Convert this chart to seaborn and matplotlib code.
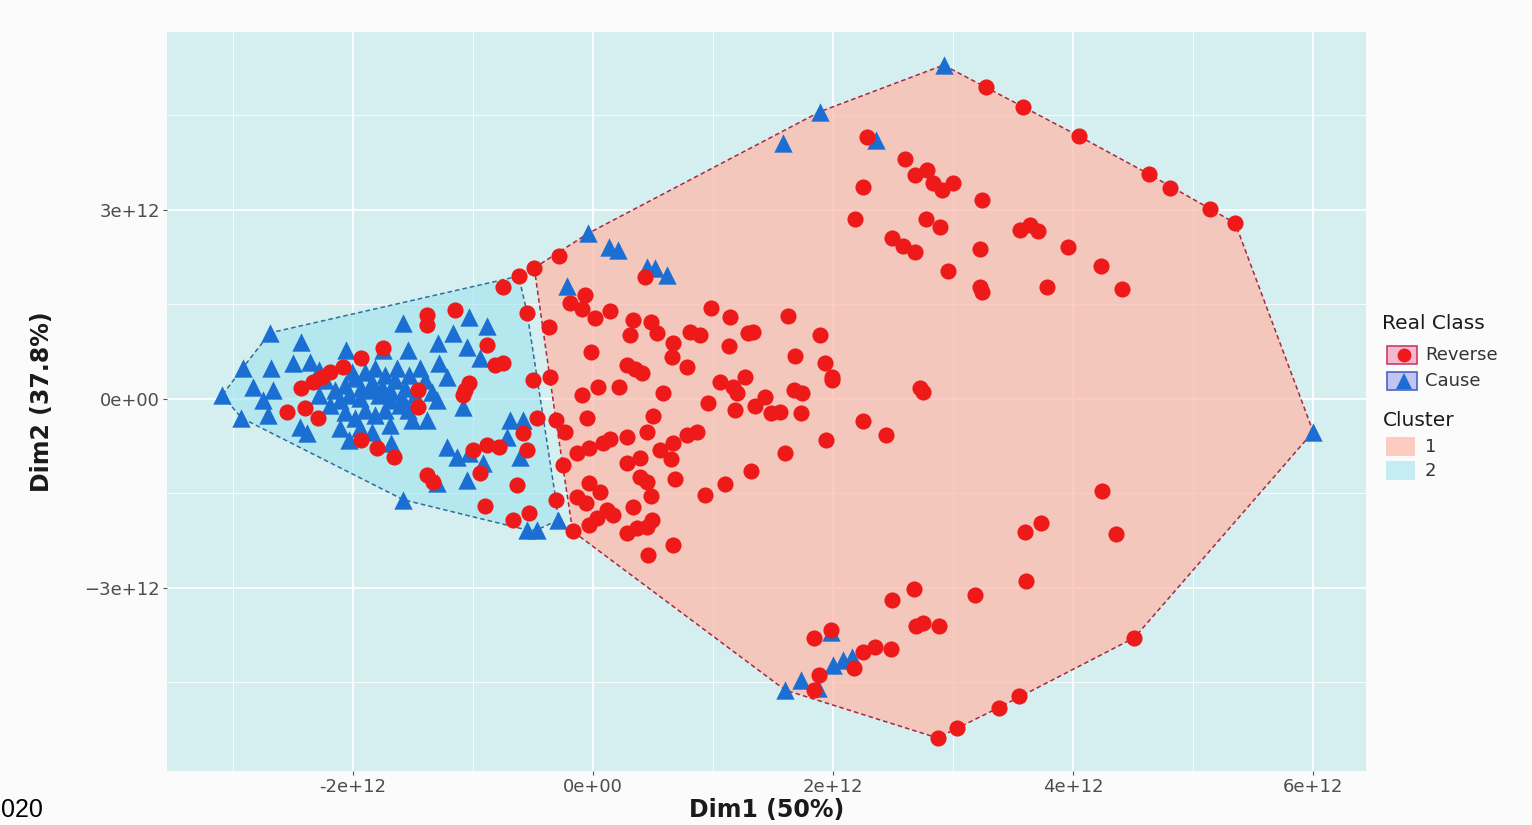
import numpy as np
import pandas as pd
import matplotlib
matplotlib.use("Agg")
import matplotlib.pyplot as plt
import seaborn as sns
from matplotlib.patches import Rectangle, Polygon
from matplotlib.lines import Line2D

UNIT = 1e12

# ---- cluster 1 : "Reverse" observations (units of 1e12) ----
c1_reverse_x = [3.27, 3.58, 4.05, 4.63, 4.81, 5.14, 5.35, 2.28, 2.60, 2.68, 2.78, 2.83, 2.91, 3.00, 2.25, 3.24,
                2.18, 2.77, 2.89, 3.56, 3.64, 3.71, 2.49, 2.58, 2.68, 3.22, 3.96, 2.96, 4.23, 3.22, 3.24, 3.78, 4.41,
                -0.49, -0.28, 0.43, 0.98, 1.14, 1.29,
                -0.07, -0.19, -0.09, 0.02, 0.14, -0.37, 0.33, 0.48, 0.31, 0.53, 0.81, 0.89, 1.62, 1.33, 1.89,
                -0.02, 0.67, 0.66, 1.13, 1.68, 0.28, 0.35, 0.41, 0.78, 1.93, 1.99, -0.36, -0.09, 0.04, 0.22, 0.58,
                1.06, 1.17, 1.27, 1.20, 0.96, 1.18, 1.35, 1.43, 1.48, 1.56, 1.67, 1.74, 1.73,
                -0.05, 0.50, -0.31, -0.23, 0.45, 0.28, -0.13, -0.03, 0.08, 0.14, 0.56, 0.67, 0.78, 0.87, 0.65, 0.28,
                0.39, 1.94, 1.60, -0.25, 0.39, 0.45, 0.68, 1.32, 1.10, -0.03, 0.06, -0.13, -0.06, 0.48, 0.93, 0.33,
                0.12, 0.17, 0.03, -0.03, 0.28, 0.37, 0.45, 0.49, 0.67, 0.46, -0.17,
                1.99, 2.72, 2.75, 2.25, 2.44, 4.24, 3.60, 3.73, 4.36, 3.61, 3.18, 2.67, 2.49, 2.69, 2.75, 2.88,
                4.51, 3.55, 3.38, 3.03, 2.87, 1.84, 1.98, 2.25, 2.35, 2.48, 1.88, 1.84, 2.17]
c1_reverse_y = [4.95, 4.63, 4.17, 3.57, 3.35, 3.02, 2.79, 4.16, 3.81, 3.56, 3.63, 3.43, 3.32, 3.43, 3.37, 3.16,
                2.86, 2.86, 2.73, 2.68, 2.76, 2.67, 2.56, 2.43, 2.33, 2.38, 2.41, 2.03, 2.11, 1.78, 1.70, 1.78, 1.75,
                2.08, 2.27, 1.94, 1.44, 1.30, 1.05,
                1.65, 1.52, 1.43, 1.29, 1.40, 1.14, 1.25, 1.22, 1.02, 1.05, 1.06, 1.02, 1.32, 1.06, 1.02,
                0.75, 0.89, 0.67, 0.84, 0.68, 0.54, 0.48, 0.41, 0.51, 0.57, 0.35, 0.35, 0.06, 0.19, 0.19, 0.10,
                0.27, 0.19, 0.35, 0.10, -0.06, -0.17, -0.11, 0.03, -0.22, -0.21, 0.14, 0.10, -0.22,
                -0.30, -0.27, -0.33, -0.52, -0.52, -0.60, -0.86, -0.78, -0.70, -0.63, -0.81, -0.70, -0.57, -0.52, -0.95, -1.02,
                -0.94, -0.65, -0.86, -1.05, -1.24, -1.32, -1.27, -1.14, -1.35, -1.33, -1.48, -1.56, -1.65, -1.54, -1.52, -1.71,
                -1.76, -1.84, -1.89, -2.00, -2.13, -2.05, -2.03, -1.92, -2.32, -2.48, -2.10,
                0.30, 0.17, 0.11, -0.35, -0.57, -1.46, -2.11, -1.97, -2.14, -2.89, -3.11, -3.02, -3.19, -3.60, -3.56, -3.60,
                -3.79, -4.71, -4.90, -5.22, -5.38, -3.79, -3.67, -4.02, -3.94, -3.97, -4.38, -4.62, -4.27]

# ---- cluster 1 : "Cause" observations ----
c1_cause_x = [-0.04, 0.13, 0.21, -0.22, 0.45, 0.52, 0.62, 1.58, 1.89, 2.36, 2.92, 6.00,
              1.60, 1.73, 1.87, 2.00, 2.08, 2.16, 1.98]
c1_cause_y = [2.63, 2.41, 2.37, 1.79, 2.10, 2.08, 1.97, 4.06, 4.56, 4.11, 5.30, -0.52,
              -4.62, -4.46, -4.59, -4.22, -4.14, -4.10, -3.70]

# ---- cluster 2 : "Reverse" observations ----
c2_reverse_x = [-0.62, -0.75, -0.55, -0.50, -0.47, -0.31,
                -1.38, -1.15, -1.38, -1.75, -1.93, -2.08, -2.19, -2.26, -2.33, -2.43,
                -0.88, -0.82, -0.75, -1.03, -1.07, -1.08, -1.46, -1.46,
                -2.55, -2.40, -2.29, -1.93, -1.80, -1.66,
                -1.00, -0.88, -0.78, -0.58, -0.55, -0.94, -1.38, -1.33, -0.63, -0.90, -0.67, -0.53]
c2_reverse_y = [1.95, 1.78, 1.37, 0.30, -0.30, -1.60,
                1.33, 1.41, 1.17, 0.81, 0.65, 0.51, 0.43, 0.35, 0.27, 0.17,
                0.86, 0.54, 0.57, 0.25, 0.14, 0.06, 0.14, -0.13,
                -0.21, -0.14, -0.30, -0.65, -0.78, -0.92,
                -0.81, -0.73, -0.76, -0.54, -0.81, -1.17, -1.21, -1.32, -1.37, -1.70, -1.92, -1.81]

# ---- cluster 2 : "Cause" observations ----
c2_cause_x = [-2.69, -2.43, -2.06, -1.58, -1.03, -0.88, -2.92, -3.09, -2.93, -2.68, -2.50, -2.36, -2.28,
              -2.83, -2.75, -2.71, -2.44, -2.38, -2.67, -1.75, -1.54, -1.29, -1.17, -1.28, -1.05, -0.94,
              -1.22, -1.08, -1.30, -1.54, -1.69, -2.03, -1.68, -1.22, -1.13, -1.03, -0.92, -1.05, -0.72,
              -0.69, -0.58, -0.61, -1.30, -1.58, -0.55, -0.47, -0.29]
c2_cause_y = [1.05, 0.90, 0.78, 1.21, 1.30, 1.16, 0.49, 0.06, -0.30, 0.49, 0.57, 0.59, 0.46,
              0.19, -0.02, -0.25, -0.44, -0.54, 0.14, 0.78, 0.78, 0.89, 1.05, 0.57, 0.83, 0.65,
              0.35, -0.13, -0.02, -0.17, -0.41, -0.65, -0.70, -0.76, -0.92, -0.86, -1.02, -1.29, -0.60,
              -0.33, -0.33, -0.92, -1.33, -1.60, -2.08, -2.08, -1.92]
c2_cause_core_x = [-2.23, -2.15, -2.07, -1.98, -1.90, -1.82, -1.73, -1.65, -1.57, -1.48,
                   -2.11, -2.03, -1.94, -1.86, -1.78, -1.69, -1.61, -1.90, -1.82, -1.73,
                   -1.98, -2.07, -2.19, -2.28, -1.53, -1.44, -1.40, -1.63, -2.01, -1.84,
                   -1.93, -1.76, -1.68, -1.59, -1.51, -1.94, -1.84, -2.11, -1.34, -1.38]
c2_cause_core_y = [0.30, 0.14, 0.22, 0.33, 0.43, 0.49, 0.38, 0.30, 0.17, 0.06,
                   -0.02, 0.06, 0.02, 0.14, 0.06, -0.02, -0.10, -0.17, -0.25, -0.17,
                   -0.30, -0.21, -0.10, 0.06, 0.38, 0.49, 0.30, 0.49, 0.43, 0.27,
                   0.17, 0.19, 0.11, 0.02, -0.33, -0.46, -0.52, -0.46, 0.11, -0.33]

x_ticks = [-2, 0, 2, 4, 6]
x_tick_labels = ["-2e+12", "0e+00", "2e+12", "4e+12", "6e+12"]
y_ticks = [-3, 0, 3]
y_tick_labels = ["\u22123e+12", "0e+00", "3e+12"]
x_title = "Dim1 (50%)"
y_title = "Dim2 (37.8%)"
class_names = ["Reverse", "Cause"]
cluster_names = ["1", "2"]
corner_note = "020"

# ---- assemble tidy frame ----
frames = []
for xs, ys, cls, clu in [
    (c1_reverse_x, c1_reverse_y, "Reverse", "1"),
    (c1_cause_x, c1_cause_y, "Cause", "1"),
    (c2_reverse_x, c2_reverse_y, "Reverse", "2"),
    (c2_cause_x + c2_cause_core_x, c2_cause_y + c2_cause_core_y, "Cause", "2"),
]:
    frames.append(pd.DataFrame({"Dim1": np.array(xs) * UNIT, "Dim2": np.array(ys) * UNIT,
                                "Real Class": cls, "Cluster": clu}))
df = pd.concat(frames, ignore_index=True)


def convex_hull(points):
    pts = sorted(map(tuple, points))
    def cross(o, a, b):
        return (a[0] - o[0]) * (b[1] - o[1]) - (a[1] - o[1]) * (b[0] - o[0])
    lower, upper = [], []
    for p in pts:
        while len(lower) >= 2 and cross(lower[-2], lower[-1], p) <= 0:
            lower.pop()
        lower.append(p)
    for p in reversed(pts):
        while len(upper) >= 2 and cross(upper[-2], upper[-1], p) <= 0:
            upper.pop()
        upper.append(p)
    return np.array(lower[:-1] + upper[:-1])


W, H = 1532, 825
fig = plt.figure(figsize=(W / 100, H / 100), dpi=100, facecolor="#fbfbfb")
L, R, T, B = 167, 1366, 32, 771
ax = fig.add_axes([L / W, 1 - B / H, (R - L) / W, (B - T) / H])
ax.set_facecolor("#d5eef0")
for s in ax.spines.values():
    s.set_visible(False)

ax.set_xlim(-3.55 * UNIT, 6.44 * UNIT)
ax.set_ylim(-5.905 * UNIT, 5.825 * UNIT)

ax.set_xticks([t * UNIT for t in x_ticks])
ax.set_xticklabels(x_tick_labels)
ax.set_yticks([t * UNIT for t in y_ticks])
ax.set_yticklabels(y_tick_labels)
ax.set_xticks([t * UNIT for t in [-3, -1, 1, 3, 5]], minor=True)
ax.set_yticks([t * UNIT for t in [-4.5, -1.5, 1.5, 4.5]], minor=True)
ax.set_axisbelow(True)
ax.grid(which="major", color="white", linewidth=1.3)
ax.grid(which="minor", color="white", linewidth=0.6)
ax.tick_params(which="major", length=3, width=0.8, color="#555555", labelsize=13,
               labelcolor="#4d4d4d", pad=2)
ax.tick_params(which="minor", length=0)

# ---- cluster hulls ----
hull_style = {
    "1": dict(face=(1.0, 0.733, 0.678), alpha=0.75, edge="#a8283e"),
    "2": dict(face=(0.62, 0.894, 0.93), alpha=0.6, edge="#2f6d9c"),
}
for clu in cluster_names:
    sub = df[df["Cluster"] == clu]
    hull = convex_hull(sub[["Dim1", "Dim2"]].values)
    st = hull_style[clu]
    ax.add_patch(Polygon(hull, closed=True, facecolor=st["face"], alpha=st["alpha"],
                         edgecolor="none", zorder=1))
    closed = np.vstack([hull, hull[:1]])
    ax.plot(closed[:, 0], closed[:, 1], color=st["edge"], lw=1.1, ls=(0, (3, 2)), zorder=2)

# ---- points ----
red, blue = "#ee1a1a", "#1b6fd3"
sns.scatterplot(data=df[df["Real Class"] == "Cause"], x="Dim1", y="Dim2", marker="^",
                color=blue, s=175, linewidth=0, legend=False, ax=ax, zorder=3)
sns.scatterplot(data=df[df["Real Class"] == "Reverse"], x="Dim1", y="Dim2", marker="o",
                color=red, s=135, linewidth=0, legend=False, ax=ax, zorder=4)

ax.set_xlabel(x_title, fontsize=17, fontweight="bold", color="#1a1a1a")
ax.set_ylabel(y_title, fontsize=17, fontweight="bold", color="#1a1a1a")
ax.xaxis.label.set_va("center")
ax.yaxis.label.set_va("center")
ax.xaxis.set_label_coords(0.5, -(810 - B) / (B - T))
ax.yaxis.set_label_coords(-(L - 42) / (R - L), 0.5)


# ---- legend ----
def fx(px):
    return px / W


def fy(py):
    return 1 - py / H


fig.text(fx(1382), fy(323), "Real Class", fontsize=14.5, color="#1a1a1a", va="center", ha="left")
key_fill = {"Reverse": "#f1b9cf", "Cause": "#c3c3f0"}
key_edge = {"Reverse": "#cc3a6a", "Cause": "#4a62c8"}
key_mark = {"Reverse": ("o", red, 10), "Cause": ("^", blue, 12)}
for i, name in enumerate(class_names):
    cy = 355 + i * 26
    fig.add_artist(Rectangle((fx(1387), fy(cy + 9)), 30 / W, 18 / H, transform=fig.transFigure,
                             facecolor=key_fill[name], edgecolor=key_edge[name], lw=1.2))
    m, c, ms = key_mark[name]
    fig.add_artist(Line2D([fx(1404)], [fy(cy)], marker=m, color=c, markersize=ms, lw=0,
                          markeredgewidth=0, transform=fig.transFigure))
    fig.text(fx(1425), fy(cy), name, fontsize=13, color="#333333", va="center", ha="left")

fig.text(fx(1383), fy(421), "Cluster", fontsize=14.5, color="#1a1a1a", va="center", ha="left")
for i, name in enumerate(cluster_names):
    cy = 447 + i * 24
    st = hull_style[name]
    fig.add_artist(Rectangle((fx(1386), fy(cy + 9)), 29 / W, 19 / H, transform=fig.transFigure,
                             facecolor=st["face"], alpha=st["alpha"], edgecolor="none"))
    fig.text(fx(1425), fy(cy), name, fontsize=13, color="#333333", va="center", ha="left")

fig.text(fx(1), fy(817), corner_note, fontsize=18, family="Liberation Sans", color="black",
         ha="left", va="baseline")

fig.savefig("out.png", dpi=100, facecolor=fig.get_facecolor())
